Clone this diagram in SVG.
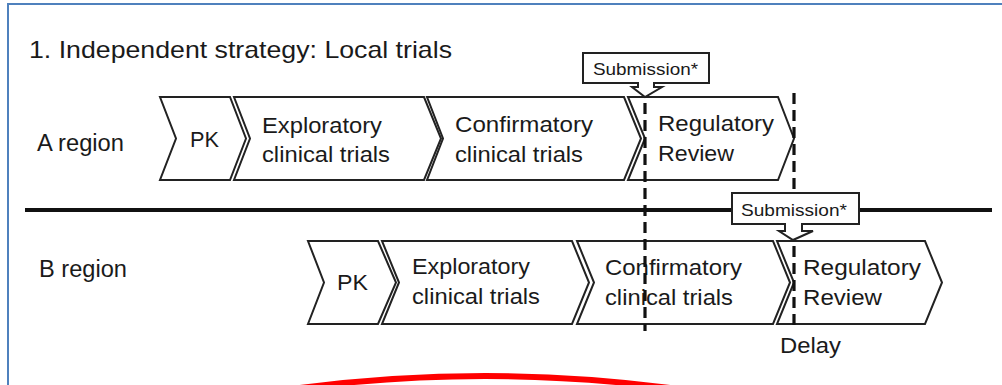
<svg xmlns="http://www.w3.org/2000/svg" width="1002" height="385" viewBox="0 0 1002 385">
<style>
text{font-family:"Liberation Sans",Arial,sans-serif;fill:#1a1a1a;}
.t{font-size:22px;}
.lab{font-size:23px;}
.sub{font-size:17px;}
.chev{fill:#fff;stroke:#222;stroke-width:2;stroke-linejoin:miter;}
.call{fill:#fff;stroke:#222;stroke-width:2;}
.dash{stroke:#111;stroke-width:3.2;stroke-dasharray:11 6;fill:none;}
</style>
<rect x="0" y="0" width="1002" height="385" fill="#fff"/>
<rect x="8" y="4" width="1010" height="400" fill="none" stroke="#4f81bd" stroke-width="2"/>
<text x="29" y="58" style="font-size:24px" textLength="423" lengthAdjust="spacingAndGlyphs">1. Independent strategy: Local trials</text>
<text class="lab" x="37" y="151" textLength="87" lengthAdjust="spacingAndGlyphs">A region</text>
<text class="lab" x="39" y="277" textLength="88" lengthAdjust="spacingAndGlyphs">B region</text>
<line x1="25" y1="210" x2="992" y2="210" stroke="#111" stroke-width="4"/>

<g id="a-pk"><path class="chev" d="M160,97 H230 L246,138.5 L230,180 H160 L176,138.5 Z"/><text class="t" x="190" y="147" textLength="29" lengthAdjust="spacingAndGlyphs">PK</text></g>
<g id="a-exp"><path class="chev" d="M234,97 H424 L441,138.5 L424,180 H234 L250,138.5 Z"/><text class="t" x="262" y="133" textLength="120" lengthAdjust="spacingAndGlyphs">Exploratory</text><text class="t" x="262" y="162" textLength="128" lengthAdjust="spacingAndGlyphs">clinical trials</text></g>
<g id="a-conf"><path class="chev" d="M427,97 H624 L641,138.5 L624,180 H427 L443,138.5 Z"/><text class="t" x="455" y="132" textLength="138" lengthAdjust="spacingAndGlyphs">Confirmatory</text><text class="t" x="455" y="162" textLength="128" lengthAdjust="spacingAndGlyphs">clinical trials</text></g>
<g id="a-reg"><path class="chev" d="M628,97 H778 L794,138.5 L778,180 H628 L645,138.5 Z"/><text class="t" x="658" y="131" textLength="116" lengthAdjust="spacingAndGlyphs">Regulatory</text><text class="t" x="658" y="161" textLength="76" lengthAdjust="spacingAndGlyphs">Review</text></g>

<g id="b-pk"><path class="chev" d="M308,241 H378 L396,282.5 L378,324 H308 L324,282.5 Z"/><text class="t" x="337" y="290" textLength="31" lengthAdjust="spacingAndGlyphs">PK</text></g>
<g id="b-exp"><path class="chev" d="M382,241 H572 L589,282.5 L572,324 H382 L399,282.5 Z"/><text class="t" x="412" y="274" textLength="118" lengthAdjust="spacingAndGlyphs">Exploratory</text><text class="t" x="412" y="304" textLength="128" lengthAdjust="spacingAndGlyphs">clinical trials</text></g>
<g id="b-conf"><path class="chev" d="M577,241 H773 L790,282.5 L773,324 H577 L594,282.5 Z"/><text class="t" x="605" y="275" textLength="137" lengthAdjust="spacingAndGlyphs">Confirmatory</text><text class="t" x="605" y="305" textLength="128" lengthAdjust="spacingAndGlyphs">clinical trials</text></g>
<g id="b-reg"><path class="chev" d="M777,241 H925 L942,282.5 L925,324 H777 L794,282.5 Z"/><text class="t" x="803" y="275" textLength="118" lengthAdjust="spacingAndGlyphs">Regulatory</text><text class="t" x="803" y="305" textLength="79" lengthAdjust="spacingAndGlyphs">Review</text></g>

<g id="connectors">
<line class="dash" x1="645" y1="86" x2="645" y2="331"/>
<line class="dash" x1="794" y1="93" x2="794" y2="328"/>
</g>

<g id="sub-a"><path class="call" d="M583,53 H709 V83 H654 V87 H662 L645,97 L632,87 H638 V83 H583 Z"/><text class="sub" x="593" y="75" textLength="105" lengthAdjust="spacingAndGlyphs">Submission*</text></g>
<g id="sub-b"><path class="call" d="M732,193 H859 V224 H802 V231 H813 L793,240 L779,231 H785 V224 H732 Z"/><text class="sub" x="741" y="216" textLength="106" lengthAdjust="spacingAndGlyphs">Submission*</text></g>

<text class="t" x="780" y="353" textLength="61" lengthAdjust="spacingAndGlyphs">Delay</text>
<path d="M285,390 Q485,362 685,390" fill="none" stroke="#ff0000" stroke-width="6"/>
</svg>
